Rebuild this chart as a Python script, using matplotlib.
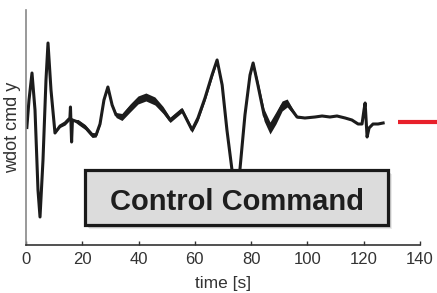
import matplotlib
matplotlib.use("Agg")
import matplotlib.pyplot as plt
from matplotlib.patches import Rectangle
from matplotlib.lines import Line2D
import numpy as np

plt.rcParams['font.family'] = ['Liberation Sans', 'DejaVu Sans']

# knots of the command trace (time [s], value in arbitrary units)
time_s = [0.3, 1.07, 2.13, 3.2, 4.26, 4.98, 6.04, 7.1, 7.82, 8.88, 10.3, 12.1, 13.9,
          15.6, 15.8, 16.2, 16.5, 18.5, 21.0, 23.5, 24.9, 26.3, 27.7, 29.1, 30.6,
          32.0, 34.1, 37.0, 39.8, 42.6, 45.8, 48.7, 51.2, 53.3, 55.4, 57.2, 59.0,
          61.1, 63.6, 66.1, 67.9, 69.7, 71.4, 73.2, 74.6, 76.0, 77.8, 79.6, 80.7,
          82.4, 84.6, 86.7, 88.8, 91.0, 92.8, 94.5, 96.3, 99.1, 102.7, 105.2, 108.0,
          110.5, 113.4, 115.8, 118.0, 119.4, 120.1, 120.5, 121.2, 121.9, 123.3,
          125.1, 126.9]
wdot_cmd_y = [0.0, 0.55, 1.09, 0.35, -1.25, -1.79, -0.65, 0.95, 1.69, 0.75, -0.11, 0.03, 0.09,
              0.19, 0.41, -0.29, 0.15, 0.11, 0.01, -0.15, -0.15, 0.07, 0.55, 0.81, 0.45,
              0.25, 0.21, 0.39, 0.55, 0.61, 0.53, 0.35, 0.15, 0.25, 0.35, 0.15, -0.05,
              0.19, 0.59, 1.05, 1.35, 0.85, -0.05, -0.85, -1.35, -0.85, 0.25, 1.05, 1.29,
              0.85, 0.25, -0.01, 0.19, 0.43, 0.49, 0.35, 0.21, 0.19, 0.21, 0.23, 0.21,
              0.23, 0.19, 0.15, 0.07, 0.07, 0.35, 0.49, -0.19, -0.01, 0.07,
              0.07, 0.09]
# thickness of the high-frequency ripple band around the trace
ripple = [0.0, 0.0, 0.0, 0.0, 0.0, 0.0, 0.0, 0.0, 0.0, 0.0, 0.0, 0.06, 0.08,
          0.08, 0.0, 0.0, 0.0, 0.1, 0.1, 0.1, 0.08, 0.06, 0.04, 0.04, 0.06,
          0.1, 0.14, 0.16, 0.16, 0.16, 0.16, 0.14, 0.1, 0.1, 0.1, 0.1, 0.1,
          0.12, 0.12, 0.12, 0.08, 0.06, 0.04, 0.04, 0.04, 0.04, 0.06, 0.08, 0.08,
          0.16, 0.24, 0.24, 0.24, 0.2, 0.16, 0.1, 0.04, 0.0, 0.0, 0.0, 0.0,
          0.0, 0.0, 0.0, 0.0, 0.0, 0.0, 0.0, 0.0, 0.0, 0.0,
          0.0, 0.0]
xticks = [0, 20, 40, 60, 80, 100, 120, 140]

W, H = 437, 293
fig = plt.figure(figsize=(W / 100, H / 100), dpi=100)
ax = fig.add_axes([26 / W, 48 / H, 394 / W, 235 / H])

t = np.array(time_s)
v = np.array(wdot_cmd_y)
r = np.array(ripple)
trace = '#1c1c1c'
ax.fill_between(t, v - r / 2, v + r / 2, color=trace, lw=0)
ax.plot(t, v, color=trace, lw=2.2, solid_joinstyle='round')

ax.set_xlim(0, 140)
ax.set_ylim(-2.35, 2.35)
ax.set_xticks(xticks)
ax.set_yticks([])
ax.tick_params(axis='x', direction='in', length=3, width=1, color='#333333',
               labelcolor='#333333', labelsize=12, pad=5)
for s in ['top', 'right']:
    ax.spines[s].set_visible(False)
ax.spines['left'].set_color('#888888')
ax.spines['left'].set_linewidth(1.2)
ax.spines['bottom'].set_color('#333333')
ax.spines['bottom'].set_linewidth(1.2)

ax.set_xlabel('time [s]', fontsize=12.5, color='#333333')
ax.xaxis.set_label_coords(0.5, -(276 - 245) / 235)
ax.set_ylabel('wdot cmd y', fontsize=13, color='#333333')
ax.yaxis.set_label_coords(-5 / 394, 0.5)

# red marker stub at the right edge
fig.add_artist(Line2D([398 / W, 1.0], [1 - 122 / H, 1 - 122 / H],
                      color='#e8202a', lw=3, solid_capstyle='butt'))

# label box with drop shadow
bx, by, bw, bh = 85 / W, 1 - 225 / H, 303 / W, 55 / H
for k, a in [(4, 0.12), (3, 0.18), (2, 0.25)]:
    fig.add_artist(Rectangle((bx + k / W, by - k / H), bw, bh,
                             facecolor='#555555', alpha=a, lw=0))
fig.add_artist(Rectangle((bx, by), bw, bh, facecolor='#dcdcdc',
                         edgecolor='#1a1a1a', lw=2.3))
fig.text(236.5 / W, 1 - 210 / H, 'Control Command', fontsize=21, fontweight='bold',
         color='#1e1e1e', ha='center', va='baseline')

fig.savefig('out.png', dpi=100)
